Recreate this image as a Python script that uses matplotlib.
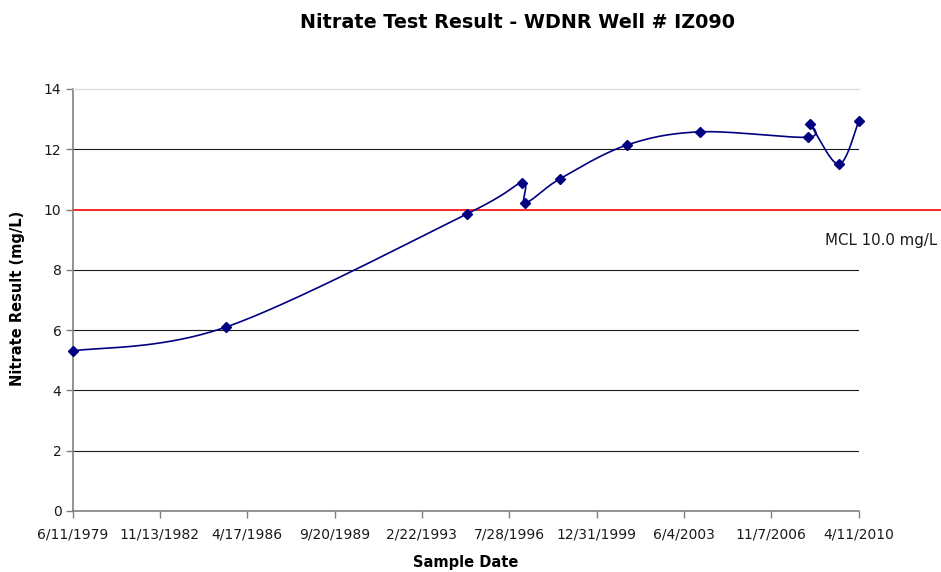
import matplotlib
matplotlib.use("Agg")
import matplotlib.pyplot as plt
import matplotlib.dates as mdates
import numpy as np
from datetime import datetime

# ---- data ----
sample_dates = ["1979-06-11", "1985-06-15", "1994-11-24", "1997-01-23", "1997-03-17",
                "1998-07-30", "2001-03-07", "2004-01-25", "2008-04-20", "2008-05-11",
                "2009-06-30", "2010-04-11"]
nitrate = [5.31, 6.10, 9.85, 10.88, 10.23, 11.03, 12.14, 12.58, 12.40, 12.83, 11.50, 12.93]
mcl_value = 10.0
mcl_label = "MCL 10.0 mg/L"
tick_labels = ["6/11/1979", "11/13/1982", "4/17/1986", "9/20/1989", "2/22/1993",
               "7/28/1996", "12/31/1999", "6/4/2003", "11/7/2006", "4/11/2010"]
y_ticks = [0, 2, 4, 6, 8, 10, 12, 14]
title = "Nitrate Test Result - WDNR Well # IZ090"
xlabel = "Sample Date"
ylabel = "Nitrate Result (mg/L)"

plt.rcParams['font.family'] = ['DejaVu Sans']

W, H = 941, 572
fig = plt.figure(figsize=(W / 100, H / 100), dpi=100)
L, R, B, T = 72.5, 858.7, 511, 89
ax = fig.add_axes([L / W, 1 - B / H, (R - L) / W, (B - T) / H])

tick_nums = mdates.date2num([datetime.strptime(s, "%m/%d/%Y") for s in tick_labels])
ax.set_xlim(tick_nums[0], tick_nums[-1])
ax.set_ylim(y_ticks[0], y_ticks[-1])

# gridlines
for yv in y_ticks[1:-1]:
    if yv == mcl_value:
        continue
    ax.axhline(yv, color='#1a1a1a', lw=0.8, zorder=1)

# MCL line (extends past plot area)
xmax_frac = (W - L) / (R - L)
ax.axhline(mcl_value, xmin=0, xmax=xmax_frac, color='#ff0000', lw=1.2, clip_on=False, zorder=2)
fig.text(937 / W, 1 - 241 / H, mcl_label, ha='right', va='center', fontsize=10.8, color='#1a1a1a')

# smoothed line (Excel-like Bezier smoothing computed in display space)
xs = mdates.date2num([np.datetime64(d) for d in sample_dates])
ys = np.array(nitrate, dtype=float)
fig.canvas.draw()
pts = ax.transData.transform(np.column_stack([xs, ys]))
n = len(pts)
curve = []
for i in range(n - 1):
    p0 = pts[max(i - 1, 0)]
    p1 = pts[i]
    p2 = pts[i + 1]
    p3 = pts[min(i + 2, n - 1)]
    c1 = p1 + (p2 - p0) / 6.0
    c2 = p2 - (p3 - p1) / 6.0
    t = np.linspace(0, 1, 40)[:, None]
    seg = ((1 - t) ** 3) * p1 + 3 * ((1 - t) ** 2) * t * c1 + 3 * (1 - t) * t ** 2 * c2 + t ** 3 * p2
    curve.append(seg if i == 0 else seg[1:])
curve = np.vstack(curve)
curve_data = ax.transData.inverted().transform(curve)
ax.plot(curve_data[:, 0], curve_data[:, 1], color='#000080', lw=1.2, zorder=3, clip_on=False)
ax.plot(xs, ys, linestyle='none', marker='D', markersize=5.5, color='#000080', zorder=4, clip_on=False)

# axes styling
ax.set_xticks(tick_nums)
ax.set_xticklabels(tick_labels)
ax.set_yticks(y_ticks)
ax.tick_params(axis='both', direction='out', length=5, width=1, color='#808080',
               labelsize=10, labelcolor='#1a1a1a')
ax.tick_params(axis='x', pad=7)
ax.tick_params(axis='y', pad=3)
for s in ['left', 'bottom']:
    ax.spines[s].set_color('#808080')
    ax.spines[s].set_linewidth(1.2)
ax.spines['top'].set_color('#dedede')
ax.spines['top'].set_linewidth(1.0)
ax.spines['right'].set_visible(False)

fig.text(517 / W, 1 - 22 / H, title, ha='center', va='center', fontsize=13.8, fontweight='bold')
fig.text(18 / W, 1 - 298 / H, ylabel, ha='center', va='center', rotation=90, fontsize=10.5, fontweight='bold')
fig.text(466 / W, 1 - 563 / H, xlabel, ha='center', va='center', fontsize=10.5, fontweight='bold')

fig.savefig("out.png", dpi=100)
